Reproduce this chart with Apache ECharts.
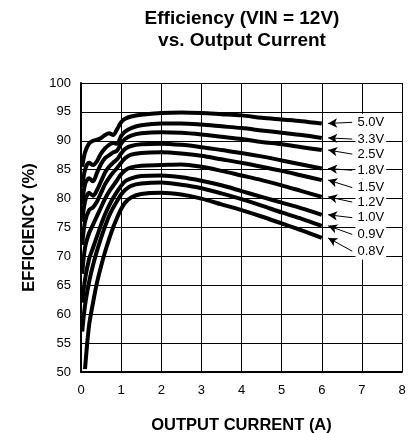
<!DOCTYPE html>
<html>
<head>
<meta charset="utf-8">
<script src="https://cdn.jsdelivr.net/npm/echarts@6/dist/echarts.min.js"></script>
<style>
  html, body { margin: 0; padding: 0; background: #fff; }
  #chart { width: 411px; height: 433px; }
</style>
</head>
<body>
<div id="chart"></div>
<script>
// 输出电流 (A)
var currents = [0.03, 0.1, 0.2, 0.3, 0.4, 0.5, 0.6, 0.7, 0.8, 0.9, 1.0, 1.1, 1.25, 1.5, 2, 2.5, 3, 3.5, 4, 4.5, 5, 5.5, 6];

// 各输出电压的效率 (%)
var eff50 = [85.5, 88, 89.5, 90, 90.2, 90.5, 91, 91.3, 91, 92, 93.2, 93.8, 94.2, 94.5, 94.8, 94.9, 94.8, 94.6, 94.4, 94.0, 93.7, 93.4, 93.0];
var eff33 = [82, 85, 86.2, 85.8, 86.5, 87.8, 88.7, 89.3, 89.6, 89.5, 90.8, 91.6, 92.2, 92.7, 93.0, 93.0, 92.8, 92.5, 92.2, 91.8, 91.4, 91.0, 90.5];
var eff25 = [79, 82.5, 83.5, 83, 84.5, 86, 87, 87.5, 88, 88.3, 89.5, 90.3, 90.9, 91.3, 91.5, 91.4, 91.1, 90.7, 90.3, 89.8, 89.4, 88.9, 88.4];
var eff18 = [76, 79.5, 81, 80.5, 81.5, 83, 84.5, 85.5, 86.2, 86.8, 87.8, 88.6, 89.1, 89.4, 89.5, 89.3, 88.9, 88.4, 87.9, 87.3, 86.6, 85.9, 85.2];
var eff15 = [72, 76, 78, 78.5, 79.5, 81, 82.5, 83.6, 84.5, 85.3, 86.2, 87, 87.6, 87.9, 88.0, 87.8, 87.4, 86.8, 86.2, 85.5, 84.8, 84.0, 83.2];
var eff12 = [67, 71.5, 74, 75.5, 77, 78.5, 80, 81.2, 82.2, 83.2, 84.2, 84.9, 85.4, 85.7, 85.8, 85.9, 85.5, 84.8, 84.0, 83.2, 82.3, 81.3, 80.3];
var eff10 = [62, 66, 69.5, 71.5, 73.5, 75.5, 77.3, 78.8, 80.1, 81.2, 82.2, 83, 83.5, 83.9, 84.0, 83.7, 83.1, 82.3, 81.3, 80.3, 79.3, 78.3, 77.2];
var eff09 = [57, 61.5, 65.5, 68.5, 71, 73.2, 75.2, 77, 78.4, 79.6, 80.7, 81.5, 82.2, 82.6, 82.8, 82.4, 81.8, 80.9, 79.9, 78.8, 77.6, 76.5, 75.3];
var eff08 = ['-', 50.5, 58, 62, 65.5, 68.3, 70.8, 73, 75, 76.7, 78.2, 79.3, 80.2, 80.8, 81.0, 80.7, 80.0, 79.0, 78.0, 76.9, 75.7, 74.5, 73.2];

var names = ['5.0V', '3.3V', '2.5V', '1.8V', '1.5V', '1.2V', '1.0V', '0.9V', '0.8V'];
var effs = [eff50, eff33, eff25, eff18, eff15, eff12, eff10, eff09, eff08];

// 右侧标注文字的纵向位置 (效率坐标)
var labelY = [93.2, 90.3, 87.7, 84.9, 81.9, 79.4, 76.7, 73.8, 70.9];

var seriesData = [];
for (var i = 0; i < names.length; i++) {
  var pts = [];
  for (var j = 0; j < currents.length; j++) {
    if (effs[i][j] !== '-') pts.push([currents[j], effs[i][j]]);
  }
  var last = pts[pts.length - 1];
  seriesData.push({
    name: names[i],
    type: 'line',
    smooth: 0.3,
    showSymbol: false,
    lineStyle: { color: '#000', width: 4 },
    data: pts,
    // 箭头指向曲线末端
    markLine: {
      silent: true,
      symbol: ['arrow', 'none'],
      symbolSize: [7, 9],
      lineStyle: { color: '#000', width: 1, type: 'solid' },
      label: { show: false },
      data: [[{ coord: [last[0] + 0.16, last[1]] }, { coord: [6.76, labelY[i]] }]]
    },
    // 电压标注, 白底遮住网格线
    markPoint: {
      silent: true,
      symbol: 'circle',
      symbolSize: 0,
      label: {
        show: true,
        position: 'right',
        distance: 0,
        formatter: names[i],
        color: '#000',
        fontSize: 13,
        backgroundColor: '#fff',
        padding: [2, 2, 2, 2],
        fontFamily: 'Liberation Sans, Arial, sans-serif'
      },
      data: [{ coord: [6.84, labelY[i]] }]
    }
  });
}

var chart = echarts.init(document.getElementById('chart'));
var option = {
  animation: false,
  textStyle: { fontFamily: 'Liberation Sans, Arial, sans-serif' },
  title: {
    text: 'Efficiency (VIN = 12V)\nvs. Output Current',
    left: 237,
    top: 3,
    textAlign: 'center',
    textStyle: { fontSize: 19, fontWeight: 'bold', color: '#000', lineHeight: 22 }
  },
  grid: { left: 81, right: 9, top: 83, bottom: 61, outerBoundsMode: 'none' },
  xAxis: {
    type: 'value',
    min: 0,
    max: 8,
    interval: 1,
    name: 'OUTPUT CURRENT (A)',
    nameLocation: 'middle',
    nameGap: 45,
    nameTextStyle: { fontSize: 16.5, fontWeight: 'bold', color: '#000' },
    axisLine: { show: true, lineStyle: { color: '#000', width: 2 } },
    axisTick: { show: false },
    axisLabel: { fontSize: 13, color: '#000', margin: 12 },
    splitLine: { show: true, lineStyle: { color: '#000', width: 1 } }
  },
  yAxis: {
    type: 'value',
    min: 50,
    max: 100,
    interval: 5,
    name: 'EFFICIENCY (%)',
    nameLocation: 'middle',
    nameRotate: 90,
    nameGap: 43,
    nameTextStyle: { fontSize: 16.5, fontWeight: 'bold', color: '#000' },
    axisLine: { show: true, lineStyle: { color: '#000', width: 2 } },
    axisTick: { show: false },
    axisLabel: { fontSize: 13, color: '#000', margin: 10 },
    splitLine: { show: true, lineStyle: { color: '#000', width: 1 } }
  },
  series: seriesData
};
chart.setOption(option);
</script>
</body>
</html>
